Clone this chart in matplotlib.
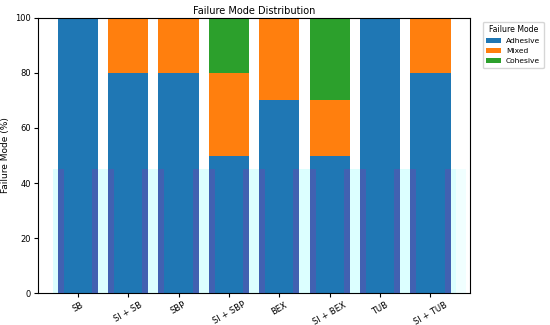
import numpy as np
import matplotlib.pyplot as plt

groups = ["SB", "SI + SB", "SBP", "SI + SBP", "BEX", "SI + BEX", "TUB", "SI + TUB"]
adhesive = [100, 80, 80, 50, 70, 50, 100, 80]
mixed = [0, 20, 20, 30, 30, 20, 0, 20]
cohesive = [0, 0, 0, 20, 0, 30, 0, 0]
shade_level = 45

x = np.arange(len(groups))
adhesive = np.array(adhesive)
mixed = np.array(mixed)
cohesive = np.array(cohesive)

fig, ax = plt.subplots(figsize=(5.5, 3.25), dpi=100)
fig.subplots_adjust(left=0.069, right=0.855, top=0.945, bottom=0.098)

# faint band behind the bars
ax.bar(x, shade_level, width=1.0, color="#dcffff", zorder=0)
ax.bar(x[-1] + 0.5, shade_level, width=0.2, align="edge", color="#f0ffff", zorder=0)

ax.bar(x, adhesive, width=0.8, color="#1f77b4", label="Adhesive", zorder=2)
ax.bar(x, mixed, width=0.8, bottom=adhesive, color="#ff7f0e", label="Mixed", zorder=2)
ax.bar(x, cohesive, width=0.8, bottom=adhesive + mixed, color="#2ca02c", label="Cohesive", zorder=2)

# purplish strips at the bar edges
ax.bar(x - 0.4, shade_level, width=0.12, align="edge", color="#5058b0", alpha=0.7, zorder=3)
ax.bar(x + 0.4, shade_level, width=-0.12, align="edge", color="#5058b0", alpha=0.7, zorder=3)

ax.set_xlim(-0.79, 7.79)
ax.set_ylim(0, 100)
ax.set_xticks(x)
ax.set_xticklabels(groups, rotation=30, fontsize=6)
ax.tick_params(axis="both", labelsize=6, length=3, pad=2)
ax.set_ylabel("Failure Mode (%)", fontsize=6.5, labelpad=4)
ax.set_title("Failure Mode Distribution", fontsize=7, pad=3)
ax.legend(title="Failure Mode", loc="upper left", bbox_to_anchor=(1.02, 1.0),
          fontsize=5.4, title_fontsize=5.6, handlelength=2.0, borderpad=0.5,
          handletextpad=0.6)

fig.savefig("out.png", dpi=100)
